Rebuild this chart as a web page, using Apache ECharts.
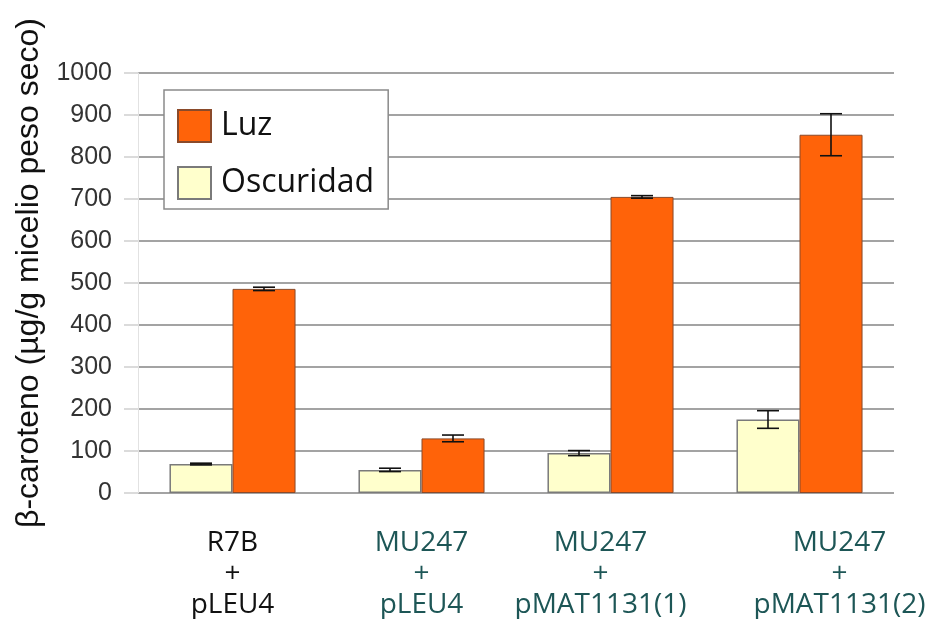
<!DOCTYPE html>
<html>
<head>
<meta charset="utf-8">
<script src="https://cdn.jsdelivr.net/npm/echarts@6/dist/echarts.min.js"></script>
<style>
  html, body { margin: 0; padding: 0; background: #fff; }
  #chart { width: 933px; height: 619px; }
</style>
</head>
<body>
<div id="chart"></div>
<script>
// Strains / plasmid combinations
const categories = ['R7B\n+\npLEU4', 'MU247\n+\npLEU4', 'MU247\n+\npMAT1131(1)', 'MU247\n+\npMAT1131(2)'];
// β-carotene content (µg/g dry mycelium)
const darkValues = [69, 55, 95, 175];
const darkErrors = [2, 4, 6, 21];
const lightValues = [486, 130, 705, 853];
const lightErrors = [4, 8, 3, 50];
const yTicks = [0, 100, 200, 300, 400, 500, 600, 700, 800, 900, 1000];

const labelColors = ['#111111', '#1d5656', '#1d5656', '#1d5656'];
// left / right padding that nudges each category label
const labelPad = [[0, 0], [0, 0], [0, 20], [80, 0]];

const chart = echarts.init(document.getElementById('chart'));

function errorSeries(name, values, errors, side) {
  return {
    type: 'custom',
    name: name + '-err',
    z: 10,
    silent: true,
    data: values.map((v, i) => [i, v, errors[i]]),
    renderItem: function (params, api) {
      const i = api.value(0);
      const v = api.value(1);
      const e = api.value(2);
      const catW = api.size([1, 0])[0];
      const base = api.coord([i, v]);
      const x = base[0] + side * catW / 6;
      const top = api.coord([i, v + e])[1];
      const bot = api.coord([i, v - e])[1];
      const cap = 11;
      const style = { stroke: '#111', lineWidth: 1.6, fill: null };
      return {
        type: 'group',
        children: [
          { type: 'line', shape: { x1: x, y1: top, x2: x, y2: bot }, style: style },
          { type: 'line', shape: { x1: x - cap, y1: top, x2: x + cap, y2: top }, style: style },
          { type: 'line', shape: { x1: x - cap, y1: bot, x2: x + cap, y2: bot }, style: style }
        ]
      };
    }
  };
}

chart.setOption({
  animation: false,
  backgroundColor: '#ffffff',
  grid: { left: 138, right: 39, top: 73, bottom: 126, containLabel: false, outerBoundsMode: 'none' },
  legend: {
    data: ['Luz', 'Oscuridad'],
    orient: 'vertical',
    left: 164,
    top: 90,
    padding: [19, 14, 9, 13],
    itemWidth: 33,
    itemHeight: 32,
    itemGap: 23,
    icon: 'rect',
    backgroundColor: '#ffffff',
    borderColor: '#8a8a8a',
    borderWidth: 1.5,
    textStyle: { fontFamily: 'Open Sans', fontSize: 32, color: '#111', padding: [0, 0, 0, 5] },
    selectedMode: false
  },
  xAxis: {
    type: 'category',
    data: categories.map((c, i) => ({
      value: c,
      textStyle: { color: labelColors[i], padding: [0, labelPad[i][1], 0, labelPad[i][0]] }
    })),
    axisLine: { show: false },
    axisTick: { show: false },
    axisLabel: {
      interval: 0,
      margin: 35,
      fontFamily: 'Open Sans',
      fontSize: 28,
      lineHeight: 31
    }
  },
  yAxis: {
    type: 'value',
    min: yTicks[0],
    max: yTicks[yTicks.length - 1],
    interval: 100,
    name: 'β-caroteno (µg/g micelio peso seco)',
    nameLocation: 'middle',
    nameGap: 90,
    nameTextStyle: { fontFamily: 'Liberation Sans', fontSize: 32, color: '#111', padding: [0, 0, 0, 20] },
    axisLine: { show: true, lineStyle: { color: '#e2e2e2', width: 1 } },
    axisTick: { show: true, length: 14, lineStyle: { color: '#d0d0d0', width: 1.5 } },
    axisLabel: {
      margin: 26,
      fontFamily: 'Liberation Sans',
      fontSize: 25,
      color: '#333',
      formatter: (v) => String(v)
    },
    splitLine: { lineStyle: { color: '#a3a3a3', width: 2 } }
  },
  series: [
    {
      name: 'Oscuridad',
      type: 'bar',
      data: darkValues,
      barGap: '0%',
      barCategoryGap: '33.3%',
      itemStyle: { color: '#ffffcc', borderColor: '#7a7a7a', borderWidth: 1.5 }
    },
    {
      name: 'Luz',
      type: 'bar',
      data: lightValues,
      barGap: '0%',
      barCategoryGap: '33.3%',
      itemStyle: { color: '#ff6309', borderColor: '#8a4a2a', borderWidth: 1 }
    },
    errorSeries('Oscuridad', darkValues, darkErrors, -1),
    errorSeries('Luz', lightValues, lightErrors, 1)
  ]
});
</script>
</body>
</html>
